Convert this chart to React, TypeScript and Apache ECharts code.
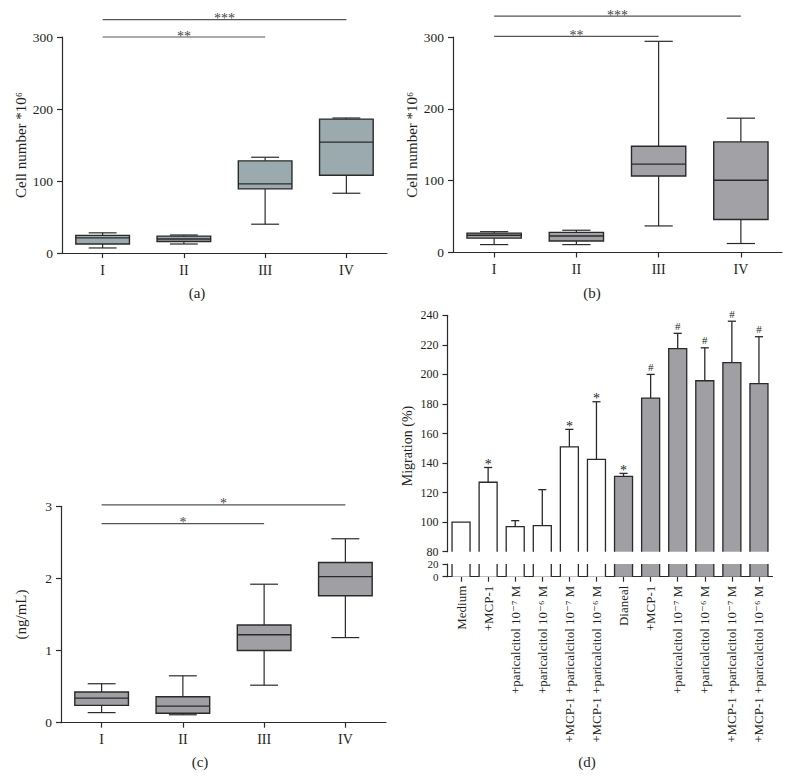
import React, { useEffect, useRef } from 'react';
import * as echarts from 'echarts';

const FONT = "'Liberation Serif', 'DejaVu Serif', 'Times New Roman', serif";

// Panels (a)-(c): groups and box statistics [low whisker, Q1, median, Q3, high whisker]
const groups = ['I', 'II', 'III', 'IV'];
const boxA = [
  [7, 12.5, 21, 24.5, 28],
  [12.5, 16, 19.5, 23.5, 25],
  [40, 89, 96, 128, 133],
  [83, 108, 154, 186, 187.5],
];
const boxB = [
  [11, 20, 24, 27, 29],
  [11, 16, 23, 28, 31],
  [37, 106.5, 123, 148, 294],
  [12.5, 46, 100.5, 154, 187],
];
const boxC = [
  [0.14, 0.24, 0.34, 0.425, 0.54],
  [0.11, 0.13, 0.23, 0.36, 0.65],
  [0.52, 1.0, 1.22, 1.355, 1.92],
  [1.18, 1.76, 2.025, 2.22, 2.55],
];

// significance brackets: [from group index, to group index, level]
const sigA = [[0, 2, 300], [0, 3, 324]];
const sigAText = ['**', '***'];
const sigB = [[0, 2, 301], [0, 3, 329]];
const sigBText = ['**', '***'];
const sigC = [[0, 2, 2.76], [0, 3, 3.02]];
const sigCText = ['*', '*'];

// Panel (d)
const dLabels = [
  'Medium',
  '+MCP-1',
  '+paricalcitol 10⁻⁷ M',
  '+paricalcitol 10⁻⁶ M',
  '+MCP-1 +paricalcitol 10⁻⁷ M',
  '+MCP-1 +paricalcitol 10⁻⁶ M',
  'Dianeal',
  '+MCP-1',
  '+paricalcitol 10⁻⁷ M',
  '+paricalcitol 10⁻⁶ M',
  '+MCP-1 +paricalcitol 10⁻⁷ M',
  '+MCP-1 +paricalcitol 10⁻⁶ M',
];
const dGroup = ['medium', 'medium', 'medium', 'medium', 'medium', 'medium', 'dianeal', 'dianeal', 'dianeal', 'dianeal', 'dianeal', 'dianeal'];
const dValues = [100, 127, 97, 97.6, 151, 142.5, 131, 184, 217.5, 195.7, 208, 193.7];
const dErrTop = [null, 137, 101, 122, 162.8, 181.5, 133, 200, 227.8, 218, 236, 225.5];
const dMarks = ['', '*', '', '', '*', '*', '*', '#', '#', '#', '#', '#'];

const INK = '#2a2a2a';
const TXT = '#231f20';

const makeBoxRender = (fill: string) => (params: any, api: any) => {
  const i = api.value(0);
  const p = [1, 2, 3, 4, 5].map((k) => api.coord([i, api.value(k)]));
  const x = p[0][0];
  const bw = api.size([1, 0])[0] * 0.66;
  const cw = bw * 0.52;
  const ls = { stroke: INK, lineWidth: 1.2 };
  return {
    type: 'group',
    children: [
      { type: 'line', shape: { x1: x, y1: p[0][1], x2: x, y2: p[1][1] }, style: ls },
      { type: 'line', shape: { x1: x, y1: p[3][1], x2: x, y2: p[4][1] }, style: ls },
      { type: 'line', shape: { x1: x - cw / 2, y1: p[0][1], x2: x + cw / 2, y2: p[0][1] }, style: ls },
      { type: 'line', shape: { x1: x - cw / 2, y1: p[4][1], x2: x + cw / 2, y2: p[4][1] }, style: ls },
      {
        type: 'rect',
        shape: { x: x - bw / 2, y: p[3][1], width: bw, height: p[1][1] - p[3][1] },
        style: { fill, stroke: INK, lineWidth: 1.4 },
      },
      { type: 'line', shape: { x1: x - bw / 2, y1: p[2][1], x2: x + bw / 2, y2: p[2][1] }, style: { stroke: INK, lineWidth: 1.4 } },
    ],
  };
};

const makeSigRender = (texts: string[]) => (params: any, api: any) => {
  const a = api.coord([api.value(0), api.value(2)]);
  const b = api.coord([api.value(1), api.value(2)]);
  return {
    type: 'group',
    children: [
      { type: 'line', shape: { x1: a[0], y1: a[1], x2: b[0], y2: b[1] }, style: { stroke: '#555', lineWidth: 1.2 } },
      {
        type: 'text',
        x: (a[0] + b[0]) / 2,
        y: a[1] - 1,
        style: { text: texts[params.dataIndex], fill: '#444', fontSize: 14, fontFamily: FONT, align: 'center', verticalAlign: 'middle' },
      },
    ],
  };
};

const groupFill: Record<string, string> = { medium: '#ffffff', dianeal: '#a0a0a4' };

const barRender = (params: any, api: any) => {
  const i = api.value(0);
  const v = api.value(1);
  const cs = params.coordSys;
  const c = api.coord([i, v]);
  const w = api.size([1, 0])[0] * 0.665;
  const bottom = cs.y + cs.height;
  const clippedTop = c[1] < cs.y;
  const top = Math.max(c[1], cs.y);
  const x0 = c[0] - w / 2;
  const x1 = c[0] + w / 2;
  const fill = groupFill[dGroup[params.dataIndex]];
  const ls = { stroke: INK, lineWidth: 1.3, fill: null };
  const children: any[] = [
    { type: 'rect', shape: { x: x0, y: top, width: w, height: bottom - top }, style: { fill } },
  ];
  if (clippedTop) {
    children.push({ type: 'line', shape: { x1: x0, y1: top, x2: x0, y2: bottom }, style: ls });
    children.push({ type: 'line', shape: { x1: x1, y1: top, x2: x1, y2: bottom }, style: ls });
  } else {
    children.push({ type: 'polyline', shape: { points: [[x0, bottom], [x0, top], [x1, top], [x1, bottom]] }, style: ls });
  }
  return { type: 'group', children };
};

const errRender = (params: any, api: any) => {
  const i = api.value(0);
  const v = api.value(1);
  const e = api.value(2);
  if (e == null || isNaN(e)) return { type: 'group', children: [] };
  const a = api.coord([i, v]);
  const b = api.coord([i, e]);
  const cw = api.size([1, 0])[0] * 0.3;
  const ls = { stroke: INK, lineWidth: 1.3 };
  const mark = dMarks[params.dataIndex];
  const children: any[] = [
    { type: 'line', shape: { x1: a[0], y1: a[1], x2: b[0], y2: b[1] }, style: ls },
    { type: 'line', shape: { x1: b[0] - cw / 2, y1: b[1], x2: b[0] + cw / 2, y2: b[1] }, style: ls },
  ];
  if (mark) {
    children.push({
      type: 'text',
      x: b[0],
      y: mark === '*' ? b[1] - 3 : b[1] - 2,
      style: {
        text: mark,
        fill: TXT,
        fontSize: mark === '*' ? 14 : 11,
        fontFamily: FONT,
        align: 'center',
        verticalAlign: mark === '*' ? 'middle' : 'bottom',
      },
    });
  }
  return { type: 'group', children };
};

const axisLineStyle = { color: INK, width: 1.2 };

const catAxis = (gridIndex: number) => ({
  type: 'category',
  gridIndex,
  data: groups,
  boundaryGap: true,
  axisLine: { show: true, lineStyle: axisLineStyle },
  axisTick: { show: true, alignWithLabel: true, length: 5, lineStyle: axisLineStyle },
  axisLabel: { fontSize: 14, margin: 10, color: TXT, fontFamily: FONT },
  splitLine: { show: false },
});

const valAxis = (gridIndex: number, min: number, max: number, interval: number, name: string, fontSize = 13.5) => ({
  type: 'value',
  gridIndex,
  min,
  max,
  interval,
  name,
  nameLocation: 'middle',
  nameGap: 33,
  nameTextStyle: { fontSize: 15, color: TXT, fontFamily: FONT },
  axisLine: { show: true, lineStyle: axisLineStyle },
  axisTick: { show: true, length: 5, lineStyle: axisLineStyle },
  axisLabel: { fontSize, margin: 9, color: TXT, fontFamily: FONT, showMinLabel: true, showMaxLabel: true, hideOverlap: false },
  splitLine: { show: false },
});

const boxData = (b: number[][]) => b.map((r, i) => [i, ...r]);

const sigSeries = (idx: number, texts: string[], data: number[][]) => ({
  type: 'custom',
  xAxisIndex: idx,
  yAxisIndex: idx,
  renderItem: makeSigRender(texts),
  data,
  encode: { x: [0, 1], y: 2 },
  clip: false,
  itemStyle: { color: '#444' },
});

const panelLabel = (text: string, x: number, y: number) => ({
  type: 'text',
  x,
  y,
  style: { text, fontSize: 15, fontFamily: FONT, fill: TXT, align: 'center', verticalAlign: 'middle' },
});

const option: any = {
  animation: false,
  backgroundColor: '#ffffff',
  textStyle: { fontFamily: FONT },
  grid: [
    { left: 62, top: 37, width: 325, height: 216 },
    { left: 453, top: 37, width: 329, height: 215.5 },
    { left: 61, top: 506.3, width: 325, height: 216.4 },
    { left: 447.5, top: 315.3, width: 325, height: 236.4 },
    { left: 447.5, top: 564, width: 325, height: 12.7 },
  ],
  xAxis: [
    catAxis(0),
    catAxis(1),
    catAxis(2),
    { type: 'category', gridIndex: 3, data: dLabels, boundaryGap: true, show: false },
    {
      type: 'category',
      gridIndex: 4,
      data: dLabels,
      boundaryGap: true,
      axisLine: { show: true, lineStyle: axisLineStyle },
      axisTick: { show: true, alignWithLabel: true, length: 5, lineStyle: axisLineStyle },
      axisLabel: { interval: 0, rotate: 90, fontSize: 13, margin: 9, color: TXT, fontFamily: FONT },
    },
  ],
  yAxis: [
    valAxis(0, 0, 300, 100, 'Cell number *10⁶'),
    valAxis(1, 0, 300, 100, 'Cell number *10⁶'),
    valAxis(2, 0, 3, 1, '(ng/mL)'),
    valAxis(3, 80, 240, 20, '', 12),
    valAxis(4, 0, 20, 20, '', 11),
  ],
  graphic: [
    panelLabel('(a)', 197, 293),
    panelLabel('(b)', 592, 293),
    panelLabel('(c)', 200, 762),
    panelLabel('(d)', 587, 762),
    {
      type: 'text',
      x: 407,
      y: 446,
      rotation: Math.PI / 2,
      style: { text: 'Migration (%)', fontSize: 14, fontFamily: FONT, fill: TXT, align: 'center', verticalAlign: 'middle' },
    },
  ],
  series: [
    { type: 'custom', xAxisIndex: 0, yAxisIndex: 0, renderItem: makeBoxRender('#9aaaae'), data: boxData(boxA), encode: { x: 0, y: [1, 2, 3, 4, 5] }, itemStyle: { color: '#9aaaae' } },
    { type: 'custom', xAxisIndex: 1, yAxisIndex: 1, renderItem: makeBoxRender('#a2a2a6'), data: boxData(boxB), encode: { x: 0, y: [1, 2, 3, 4, 5] }, itemStyle: { color: '#a2a2a6' } },
    { type: 'custom', xAxisIndex: 2, yAxisIndex: 2, renderItem: makeBoxRender('#a0a0a4'), data: boxData(boxC), encode: { x: 0, y: [1, 2, 3, 4, 5] }, itemStyle: { color: '#a0a0a4' } },
    sigSeries(0, sigAText, sigA),
    sigSeries(1, sigBText, sigB),
    sigSeries(2, sigCText, sigC),
    { type: 'custom', xAxisIndex: 3, yAxisIndex: 3, renderItem: barRender, data: dValues.map((v, i) => [i, v]), encode: { x: 0, y: 1 }, itemStyle: { color: INK } },
    { type: 'custom', xAxisIndex: 4, yAxisIndex: 4, renderItem: barRender, data: dValues.map((v, i) => [i, v]), encode: { x: 0, y: 1 }, itemStyle: { color: INK } },
    {
      type: 'custom',
      xAxisIndex: 3,
      yAxisIndex: 3,
      renderItem: errRender,
      data: dValues.map((v, i) => [i, v, dErrTop[i] == null ? NaN : dErrTop[i]]),
      encode: { x: 0, y: [1, 2] },
      clip: false,
      z: 3,
      itemStyle: { color: TXT },
    },
  ],
};

export default function App() {
  const ref = useRef<HTMLDivElement>(null);
  useEffect(() => {
    const chart = echarts.init(ref.current as HTMLDivElement, null, { renderer: 'svg' });
    chart.setOption(option);
    return () => chart.dispose();
  }, []);
  return (
    <div
      ref={ref}
      style={{ position: 'absolute', left: 0, top: 0, width: 790, height: 776, background: '#fff' }}
    />
  );
}
